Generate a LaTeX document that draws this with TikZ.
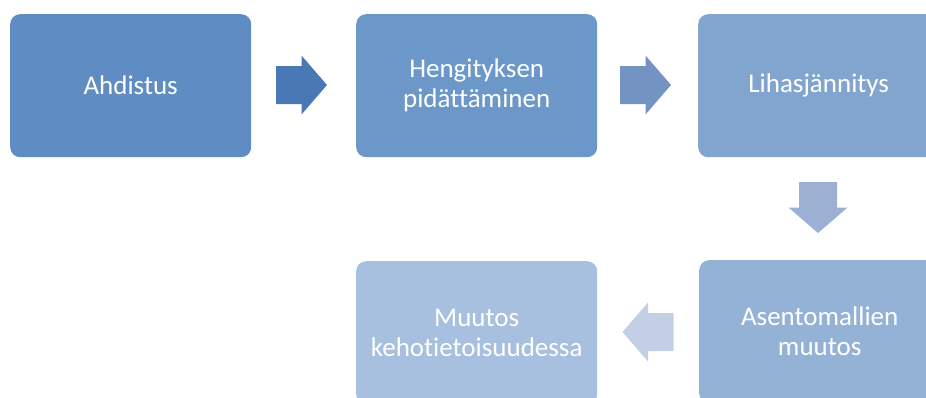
\documentclass[tikz,border=0pt]{standalone}
\usepackage{fontspec}
\setmainfont[Ligatures=NoCommon]{Carlito}
\definecolor{boxA}{HTML}{5F8DC3}
\definecolor{boxB}{HTML}{6C97C9}
\definecolor{boxC}{HTML}{82A5D0}
\definecolor{boxD}{HTML}{94B1D6}
\definecolor{boxE}{HTML}{A8C0DF}
\definecolor{arrA}{HTML}{4A78B4}
\definecolor{arrB}{HTML}{7394C3}
\definecolor{arrC}{HTML}{9BB0D3}
\definecolor{arrD}{HTML}{C3CFE4}
\tikzset{
  stepbox/.style={rectangle, rounded corners=10pt, minimum width=241pt, minimum height=143pt,
    inner sep=0pt, anchor=north west, text=white, align=center,
    font=\fontsize{27}{30}\selectfont},
  pics/blockarrow/.style={code={
    \fill (-25.5,-19) -- (0,-19) -- (0,-29.5) -- (25.5,0) -- (0,29.5) -- (0,19) -- (-25.5,19) -- cycle;}}
}
\begin{document}
\begin{tikzpicture}[x=1pt,y=-1pt]
\useasboundingbox (0,0) rectangle (926,397);
\clip (0,0) rectangle (926,397);
\node[stepbox, fill=boxA] (b1) at (10,14) {Ahdistus};
\node[stepbox, fill=boxB] (b2) at (356,14) {Hengityksen\\pidättäminen};
\node[stepbox, fill=boxC] (b3) at (698,14) {Lihasjännitys};
\node[stepbox, fill=boxD] (b4) at (699,260) {Asentomallien\\muutos};
\node[stepbox, fill=boxE] (b5) at (356,261) {Muutos\\kehotietoisuudessa};
\coordinate (a1) at (301.5,85);
\coordinate (a2) at (645.5,85);
\coordinate (a3) at (818,207.5);
\coordinate (a4) at (648,332);
\pic[fill=arrA] at (a1) {blockarrow};
\pic[fill=arrB] at (a2) {blockarrow};
\pic[fill=arrC, rotate=-90] at (a3) {blockarrow};
\pic[fill=arrD, rotate=180] at (a4) {blockarrow};
\end{tikzpicture}
\end{document}
